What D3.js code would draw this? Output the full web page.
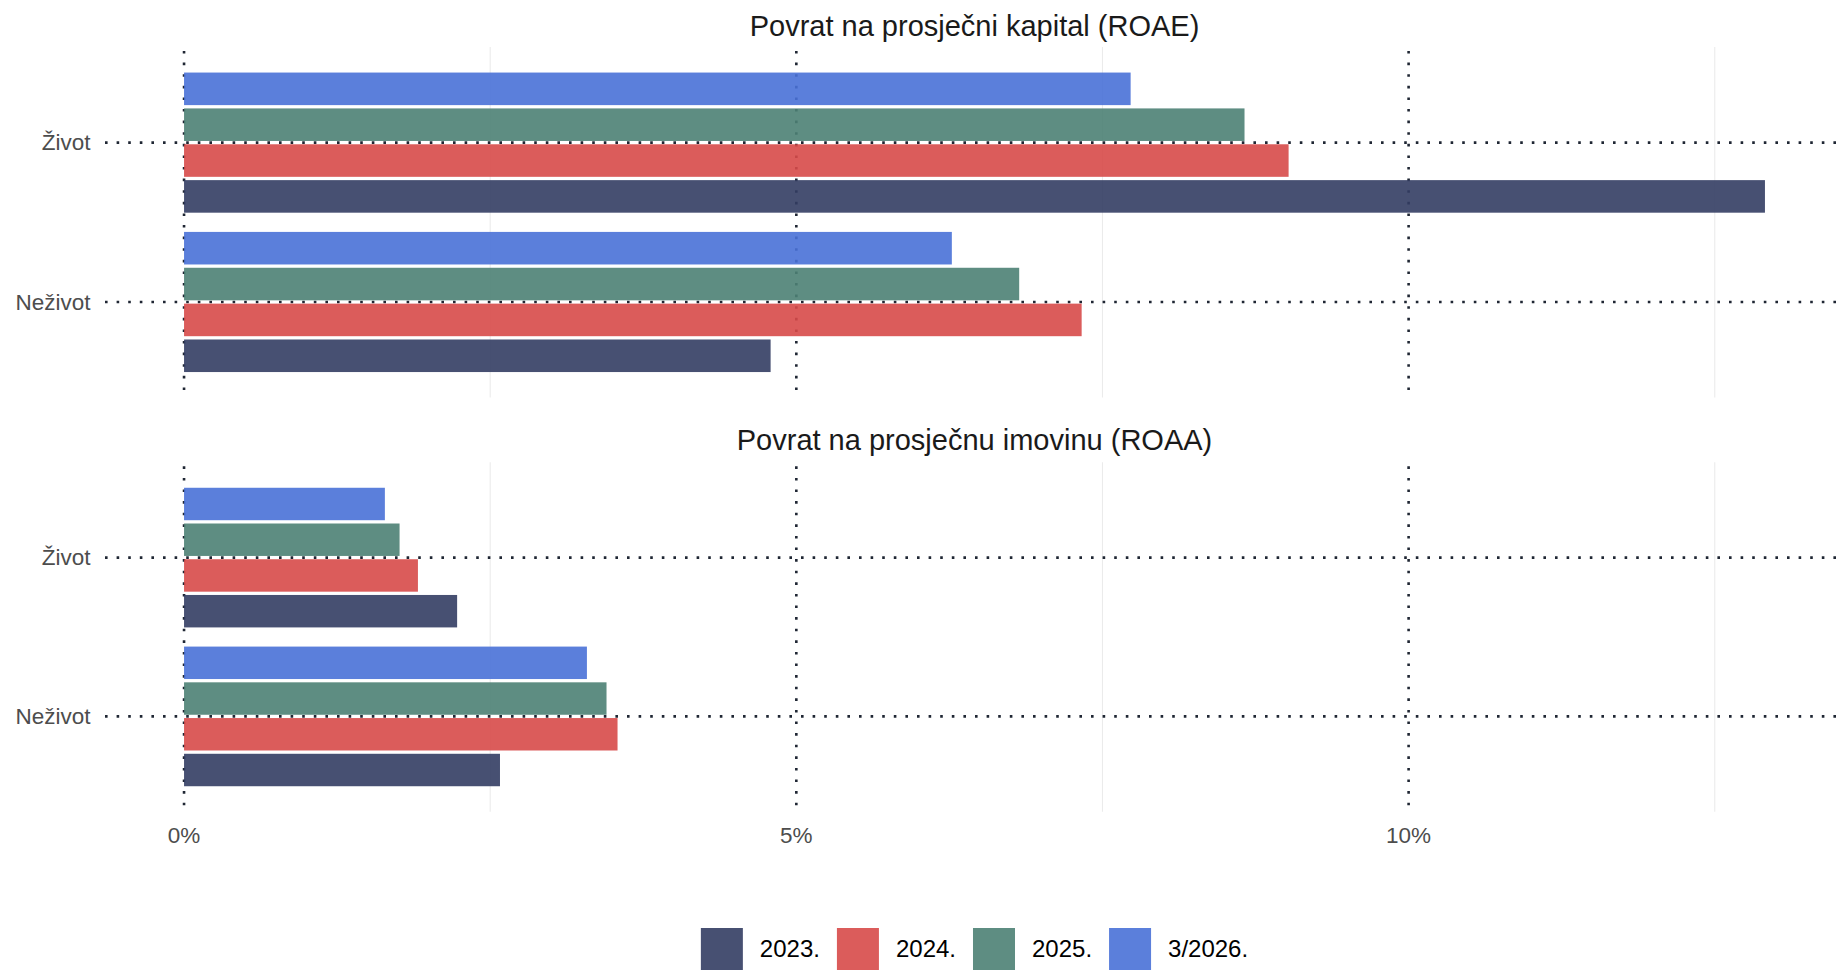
<!DOCTYPE html>
<html>
<head>
<meta charset="utf-8">
<script src="https://cdn.jsdelivr.net/npm/d3@7"></script>
<style>
  html, body { margin: 0; padding: 0; background: #ffffff; }
  svg { display: block; font-family: "Liberation Sans", Arial, sans-serif; }
</style>
</head>
<body>
<svg id="chart" width="1844" height="972"></svg>
<script>
// ---- Data ----
const categories = ["Život", "Neživot"];
const seriesNames = ["2023.", "2024.", "2025.", "3/2026."];
const panelTitles = ["Povrat na prosječni kapital (ROAE)", "Povrat na prosječnu imovinu (ROAA)"];
// values in %, per series, per category [Život, Neživot]
const roae2023 = [12.91, 4.79];
const roae2024 = [9.02, 7.33];
const roae2025 = [8.66, 6.82];
const roae2026q1 = [7.73, 6.27];
const roaa2023 = [2.23, 2.58];
const roaa2024 = [1.91, 3.54];
const roaa2025 = [1.76, 3.45];
const roaa2026q1 = [1.64, 3.29];
const xTicks = [0, 5, 10];
const xMinorTicks = [2.5, 7.5, 12.5];
const colors = ["#333D63", "#D74A49", "#4D8174", "#4971D7"];

const panels = [
  { title: panelTitles[0], series: [roae2023, roae2024, roae2025, roae2026q1] },
  { title: panelTitles[1], series: [roaa2023, roaa2024, roaa2025, roaa2026q1] }
];

// ---- Layout ----
const svg = d3.select("#chart");
const left = 105, right = 1844;
const panelRanges = [[47, 397.6], [462.3, 811.7]];
const titleBaselines = [36, 450];

const allVals = panels.flatMap(p => p.series.flat());
const xmax = d3.max(allVals), xmin = 0;
const pad = (xmax - xmin) * 0.05;
const x = d3.scaleLinear().domain([xmin - pad, xmax + pad]).range([left, right]);

const dotColor = "#1f2633";
const dash = "2.6,9";

panels.forEach((p, pi) => {
  const [top, bottom] = panelRanges[pi];
  const g = svg.append("g");
  const y = d3.scaleBand().domain(categories).range([top, bottom]).paddingInner(0.1).paddingOuter(0.15);
  const ySub = d3.scaleBand().domain(seriesNames.slice().reverse()).range([0, y.bandwidth()]).paddingInner(0.092).paddingOuter(0.046);

  // minor grid
  g.selectAll(".minor").data(xMinorTicks).join("line")
    .attr("x1", d => x(d)).attr("x2", d => x(d))
    .attr("y1", top).attr("y2", bottom)
    .attr("stroke", "#EBEBEB").attr("stroke-width", 1.1);
  // major grid (dotted)
  g.selectAll(".major").data(xTicks).join("line")
    .attr("x1", d => x(d)).attr("x2", d => x(d))
    .attr("y1", top).attr("y2", bottom)
    .attr("stroke", dotColor).attr("stroke-width", 2.6)
    .attr("stroke-dasharray", dash).attr("stroke-dashoffset", -4);
  // horizontal dotted grid
  g.selectAll(".hgrid").data(categories).join("line")
    .attr("x1", left).attr("x2", right)
    .attr("y1", d => y(d) + y.bandwidth() / 2).attr("y2", d => y(d) + y.bandwidth() / 2)
    .attr("stroke", dotColor).attr("stroke-width", 2.6)
    .attr("stroke-dasharray", dash);

  // bars
  seriesNames.forEach((s, si) => {
    g.selectAll(".bar" + si).data(categories).join("rect")
      .attr("x", x(0))
      .attr("y", (c) => y(c) + ySub(s))
      .attr("width", (c, ci) => x(p.series[si][ci]) - x(0))
      .attr("height", ySub.bandwidth())
      .attr("fill", colors[si])
      .attr("fill-opacity", 0.9);
  });

  // y labels
  g.selectAll(".ylab").data(categories).join("text")
    .attr("x", 90.5).attr("y", d => y(d) + y.bandwidth() / 2)
    .attr("dy", "0.35em")
    .attr("text-anchor", "end")
    .attr("font-size", 22.5).attr("fill", "#4D4D4D")
    .text(d => d);

  // title
  svg.append("text")
    .attr("x", (left + right) / 2).attr("y", titleBaselines[pi])
    .attr("text-anchor", "middle")
    .attr("font-size", 29).attr("fill", "#1a1a1a")
    .text(p.title);
});

// x axis labels (bottom panel only)
svg.append("g").selectAll("text").data(xTicks).join("text")
  .attr("x", d => x(d)).attr("y", 843)
  .attr("text-anchor", "middle")
  .attr("font-size", 22.5).attr("fill", "#4D4D4D")
  .text(d => d3.format(".0f")(d) + "%");

// legend
const lg = svg.append("g");
const keySize = 42, keyGap = 17, itemGap = 17;
let cx = 0;
seriesNames.forEach((s, i) => {
  const it = lg.append("g");
  it.append("rect").attr("x", 0).attr("y", 0).attr("width", keySize).attr("height", keySize)
    .attr("fill", colors[i]).attr("fill-opacity", 0.9);
  const t = it.append("text").attr("x", keySize + keyGap).attr("y", keySize / 2).attr("dy", "0.35em")
    .attr("font-size", 24).attr("fill", "#000").text(s);
  const w = t.node().getComputedTextLength();
  it.attr("transform", `translate(${cx},0)`);
  cx += keySize + keyGap + w + itemGap;
});
const totalW = cx - itemGap;
lg.attr("transform", `translate(${(left + right) / 2 - totalW / 2},928)`);
</script>
</body>
</html>
